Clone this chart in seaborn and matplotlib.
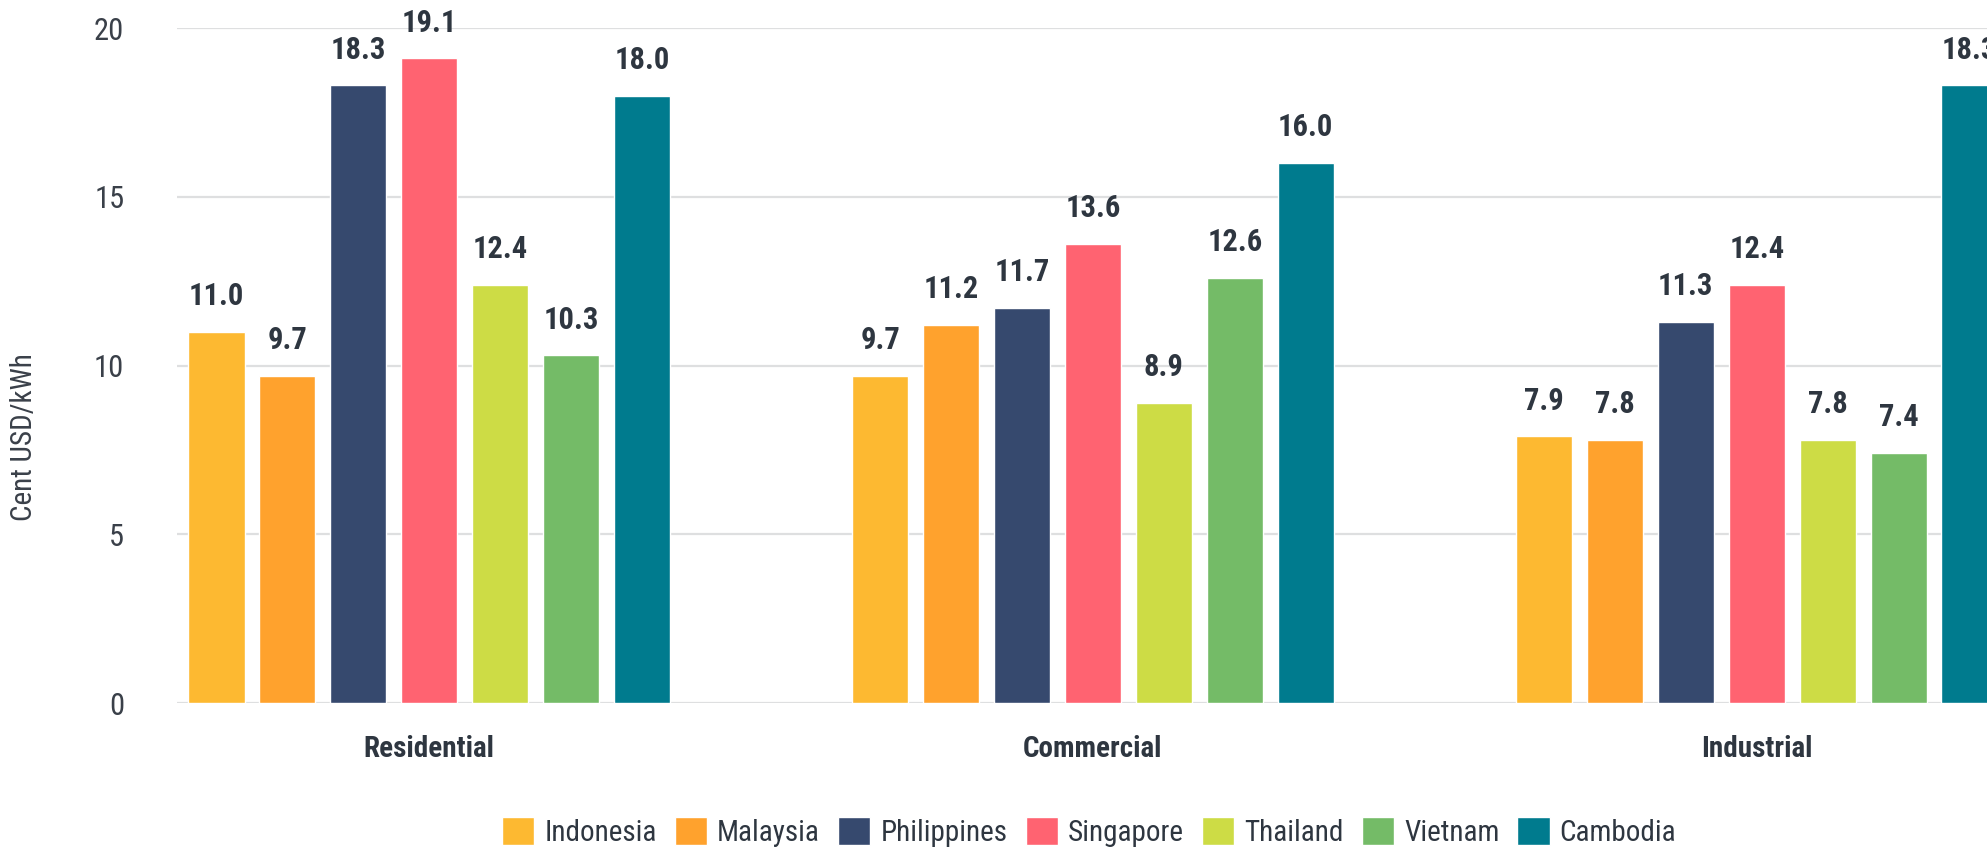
import matplotlib.pyplot as plt
import pandas as pd
import seaborn as sns
from matplotlib import font_manager

# electricity tariffs, cent USD/kWh
sectors = ["Residential", "Commercial", "Industrial"]
countries = ["Indonesia", "Malaysia", "Philippines", "Singapore", "Thailand", "Vietnam", "Cambodia"]
indonesia = [11.0, 9.7, 7.9]
malaysia = [9.7, 11.2, 7.8]
philippines = [18.3, 11.7, 11.3]
singapore = [19.1, 13.6, 12.4]
thailand = [12.4, 8.9, 7.8]
vietnam = [10.3, 12.6, 7.4]
cambodia = [18.0, 16.0, 18.3]
colors = ["#FDB931", "#FFA22D", "#36496E", "#FF6371", "#CDDC45", "#74BB67", "#007B8E"]

values = [indonesia, malaysia, philippines, singapore, thailand, vietnam, cambodia]
rows = []
for country, vals in zip(countries, values):
    for sector, v in zip(sectors, vals):
        rows.append({"sector": sector, "country": country, "price": v})
df = pd.DataFrame(rows)

sns.set_theme(style="white")
installed = {f.name for f in font_manager.fontManager.ttflist}
family = [f for f in ["Roboto Condensed", "Liberation Sans Narrow"] if f in installed] + ["DejaVu Sans"]
plt.rcParams["font.family"] = family

text_color = "#2e3640"

fig = plt.figure(figsize=(19.87, 8.51), dpi=100)
ax = fig.add_axes([0.0891, 0.1739, 0.9109, 0.7931])

sns.barplot(
    data=df, x="sector", y="price", hue="country",
    palette=colors, width=0.748, gap=0.21, ax=ax, saturation=1,
)

for container in ax.containers:
    ax.bar_label(container, fmt="%.1f", padding=15, fontsize=22,
                 fontweight="bold", color=text_color)

ax.set_xlim(-0.38, 2.347)
ax.set_ylim(0, 20)
ax.set_yticks([0, 5, 10, 15, 20])
ax.set_axisbelow(True)
ax.grid(axis="y", color="#dedfe0", linewidth=1.6)
sns.despine(ax=ax, left=True, bottom=True, right=True, top=True)

ax.tick_params(axis="y", length=0, pad=38, labelsize=22, labelcolor="#3a4049")
ax.tick_params(axis="x", length=0, pad=23, labelsize=21, labelcolor=text_color)
for lbl in ax.get_xticklabels():
    lbl.set_fontweight("bold")

ax.set_xlabel("")
ax.set_ylabel("Cent USD/kWh", fontsize=21, color="#3a4049")
ax.yaxis.set_label_coords(-0.077, 0.394)

sns.move_legend(
    ax, loc="center", bbox_to_anchor=(0.504, -0.191), ncol=7, frameon=False,
    title=None, fontsize=21, handlelength=1.1, handleheight=1.1,
    handletextpad=0.35, columnspacing=0.62, labelcolor=text_color,
)

fig.savefig("out.png", dpi=100)
